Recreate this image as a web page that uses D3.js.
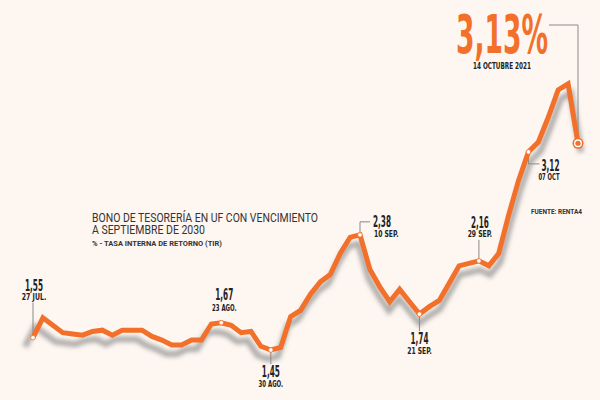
<!DOCTYPE html>
<html>
<head>
<meta charset="utf-8">
<style>
  body, html { margin: 0; padding: 0; background: #fdf6f1; }
  svg { display: block; }
  .num { font-family: "Liberation Sans Narrow", "DejaVu Sans Condensed", sans-serif; font-weight: bold; fill: #222; }
  .date { font-family: "Liberation Sans Narrow", "DejaVu Sans Condensed", sans-serif; fill: #222; }
  .title { font-family: Roboto, "Open Sans", sans-serif; fill: #333; }
</style>
</head>
<body>
<svg id="svg" width="600" height="400"></svg>
<script src="https://d3js.org/d3.v7.min.js"></script>
<script>
// Daily rate (TIR %), one per trading day, 27 Jul -> 14 Oct 2021
const rates = [
  1.55, 1.71, 1.65, 1.59, 1.58, 1.57, 1.60, 1.61, 1.57, 1.61,
  1.61, 1.61, 1.56, 1.53, 1.49, 1.49, 1.53, 1.53, 1.66, 1.67,
  1.65, 1.59, 1.60, 1.48, 1.45, 1.47, 1.72, 1.77, 1.90, 2.00,
  2.06, 2.23, 2.36, 2.38, 2.10, 1.96, 1.84, 1.94, 1.84, 1.74,
  1.80, 1.85, 1.99, 2.13, 2.15, 2.17, 2.13, 2.23, 2.54, 2.82,
  3.05, 3.13, 3.33, 3.55, 3.60, 3.12
]

// Annotated days: index into rates, value text, date text
const noteIndex = [0, 19, 24, 33, 39, 45, 50]
const noteValue = ['1,55', '1,67', '1,45', '2,38', '1,74', '2,16', '3,12']
const noteDate = ['27 JUL.', '23 AGO.', '30 AGO.', '10 SEP.', '21 SEP.', '29 SEP.', '07 OCT']

const lastValue = '3,13%'
const lastDate = '14 OCTUBRE 2021'
const titleLines = ['BONO DE TESORERÍA EN UF CON VENCIMIENTO', 'A SEPTIEMBRE DE 2030']
const subtitle = '% - TASA INTERNA DE RETORNO (TIR)'
const source = 'FUENTE: RENTA4'

const width = 600
const height = 400
const orange = '#f2702a'
const grey = '#8a8a8a'

const svg = d3.select('#svg')
svg.append('rect').attr('width', width).attr('height', height).attr('fill', '#fdf6f1')

const xscale = d3.scaleLinear().domain([0, rates.length - 1]).range([33, 578])
const yscale = d3.scaleLinear().domain([1.45, 3.13]).range([350, 142])

// blur for the shadow
const defs = svg.append('defs')
defs.append('filter').attr('id', 'blur')
  .attr('x', '-10%').attr('y', '-10%').attr('width', '120%').attr('height', '120%')
  .append('feGaussianBlur').attr('stdDeviation', 2)

const linegen = d3.line()
  .x((d, i) => xscale(i))
  .y(d => yscale(d))

// shadow under the line
svg.append('path')
  .attr('d', linegen(rates))
  .attr('transform', 'matrix(1.02,0,0,1,-8.6,9)')
  .attr('fill', 'none')
  .attr('stroke', '#7d7d7d')
  .attr('stroke-width', 6)
  .attr('stroke-opacity', 0.6)
  .attr('filter', 'url(#blur)')

// leader lines
const leaders = svg.append('g').attr('stroke', grey).attr('stroke-width', 1).attr('fill', 'none')

// label layout for each note
const layout = ['up', 'upNear', 'down', 'right', 'down', 'up', 'rightDown']

noteIndex.forEach((idx, k) => {
  const px = xscale(idx)
  const py = yscale(rates[idx])
  const kind = layout[k]
  let vx, vy, dx, dy, anchor = 'middle'
  if (kind === 'up') {
    const top = idx === 0 ? py - 35 : py - 21
    leaders.append('path').attr('d', `M${px},${py - 2}V${top}`)
    vx = px + 1; vy = top - 12; dx = px + 1; dy = top - 3
  } else if (kind === 'upNear') {
    vx = px + 3; vy = py - 23; dx = px + 3; dy = py - 12
  } else if (kind === 'down') {
    const bot = idx === 24 ? py + 14 : py + 17
    leaders.append('path').attr('d', `M${px},${py + 2}V${bot}`)
    vx = px; vy = bot + 13; dx = px; dy = bot + 23
  } else if (kind === 'right') {
    leaders.append('path').attr('d', `M${px},${py - 2}V${py - 13}H${px + 10}`)
    anchor = 'start'
    vx = px + 13; vy = py - 8; dx = px + 14; dy = py + 2
  } else {
    leaders.append('path').attr('d', `M${px},${py + 2}V${py + 12}H${px + 11}`)
    anchor = 'start'
    vx = px + 13; vy = py + 19; dx = px + 10; dy = py + 28
  }
  svg.append('text').attr('class', 'num')
    .attr('x', vx).attr('y', vy).attr('text-anchor', anchor)
    .attr('font-size', 15)
    .attr('textLength', 18).attr('lengthAdjust', 'spacingAndGlyphs')
    .text(noteValue[k])
  svg.append('text').attr('class', 'date')
    .attr('x', dx).attr('y', dy).attr('text-anchor', anchor)
    .attr('font-size', 8).attr('font-weight', 'bold')
    .attr('textLength', noteDate[k].length * 3.5).attr('lengthAdjust', 'spacingAndGlyphs')
    .text(noteDate[k])
})

// last value leader
const lx = xscale(rates.length - 1)
const ly = yscale(rates[rates.length - 1])
leaders.append('path').attr('d', `M549,25H${lx}V${ly - 6}`)

// the line
svg.append('path')
  .attr('d', linegen(rates))
  .attr('fill', 'none')
  .attr('stroke', orange)
  .attr('stroke-width', 5)
  .attr('stroke-linejoin', 'miter')

// small markers
svg.selectAll('circle.mark')
  .data(noteIndex)
  .join('circle')
  .attr('class', 'mark')
  .attr('cx', d => xscale(d))
  .attr('cy', d => yscale(rates[d]))
  .attr('r', 2.3)
  .attr('fill', '#fff')
  .attr('stroke', orange)
  .attr('stroke-width', 0.8)

// last point marker
svg.append('circle').attr('cx', lx).attr('cy', ly).attr('r', 5.5)
  .attr('fill', orange).attr('stroke', 'none')
svg.append('circle').attr('cx', lx).attr('cy', ly).attr('r', 4)
  .attr('fill', '#fff')
svg.append('circle').attr('cx', lx).attr('cy', ly).attr('r', 2.6)
  .attr('fill', orange)

// big last value
svg.append('text').attr('class', 'num')
  .attr('x', 456).attr('y', 53)
  .attr('font-size', 54)
  .style('fill', orange)
  .attr('textLength', 92).attr('lengthAdjust', 'spacingAndGlyphs')
  .text(lastValue)
svg.append('text').attr('class', 'date')
  .attr('x', 502).attr('y', 69).attr('text-anchor', 'middle')
  .attr('font-size', 8).attr('font-weight', 'bold')
  .attr('textLength', 58).attr('lengthAdjust', 'spacingAndGlyphs')
  .text(lastDate)

// title block
svg.append('text').attr('class', 'title')
  .attr('x', 92).attr('y', 222).attr('font-size', 12.5)
  .attr('textLength', 226).attr('lengthAdjust', 'spacingAndGlyphs')
  .text(titleLines[0])
svg.append('text').attr('class', 'title')
  .attr('x', 92).attr('y', 234).attr('font-size', 12.5)
  .attr('textLength', 113).attr('lengthAdjust', 'spacingAndGlyphs')
  .text(titleLines[1])
svg.append('text').attr('class', 'title')
  .attr('x', 92).attr('y', 245.5).attr('font-size', 7).attr('font-weight', 'bold')
  .attr('textLength', 130).attr('lengthAdjust', 'spacingAndGlyphs')
  .text(subtitle)

svg.append('text').attr('class', 'title')
  .attr('x', 531).attr('y', 213.5).attr('font-size', 7).attr('font-weight', 'bold')
  .attr('textLength', 51).attr('lengthAdjust', 'spacingAndGlyphs')
  .text(source)
</script>
</body>
</html>
